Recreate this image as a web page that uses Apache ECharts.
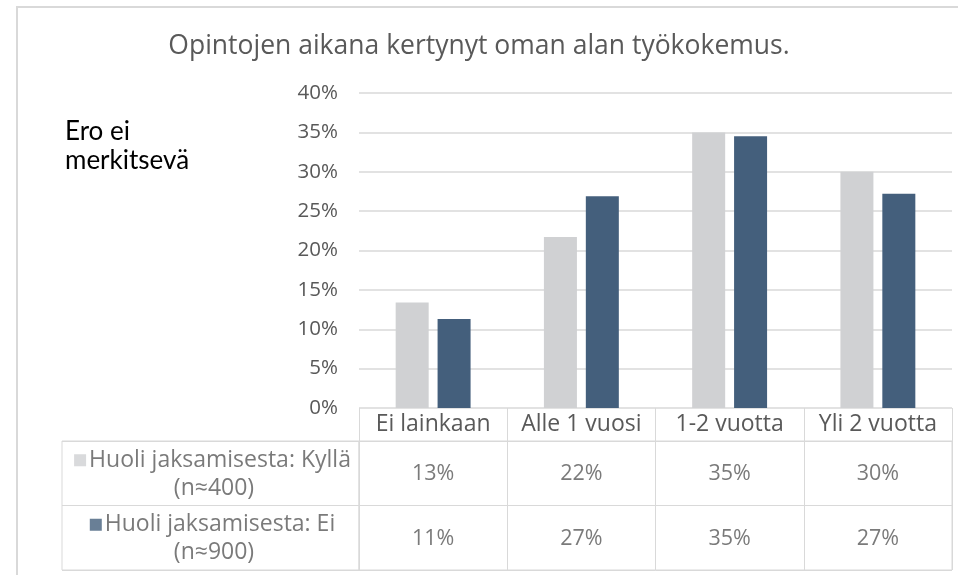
<!DOCTYPE html>
<html lang="fi">

<head>
    <meta charset="UTF-8">
    <title>Opintojen aikana kertynyt oman alan työkokemus</title>
    <script src="https://cdn.jsdelivr.net/npm/echarts@6/dist/echarts.min.js"></script>
    <style>
        html, body { margin: 0; padding: 0; background: #fff; }
        #chart { width: 958px; height: 575px; }
    </style>
</head>

<body>
    <div id="chart"></div>
    <script>
        // data
        var categories = ['Ei lainkaan', 'Alle 1 vuosi', '1-2 vuotta', 'Yli 2 vuotta'];
        var seriesNames = ['Huoli jaksamisesta: Kyllä', 'Huoli jaksamisesta: Ei'];
        var seriesN = ['(n≈400)', '(n≈900)'];
        var kylla = [13.4, 21.7, 35.0, 30.0];
        var ei = [11.3, 26.9, 34.5, 27.2];
        var colors = ['#d0d1d3', '#445f7c'];

        var font = '"Open Sans", "Noto Sans", sans-serif';
        var gridColor = '#d9d9d9';
        var textColor = '#595959';

        // cells of the data table (column, row, value)
        var cells = [];
        [kylla, ei].forEach(function(vals, r) {
            vals.forEach(function(v, c) { cells.push([c, r, v]); });
        });

        var chart = echarts.init(document.getElementById('chart'));
        var option = {
            animation: false,
            textStyle: { fontFamily: font },
            title: [{
                text: 'Opintojen aikana kertynyt oman alan työkokemus.',
                left: 'center',
                top: 28,
                textStyle: { fontSize: 26.5, fontWeight: 'normal', color: textColor, fontFamily: font }
            }, {
                text: 'Ero ei\nmerkitsevä',
                left: 60,
                top: 112,
                textStyle: { fontSize: 26, fontWeight: 'normal', color: '#000', lineHeight: 29, fontFamily: 'Lato, sans-serif' }
            }],
            graphic: [{
                type: 'rect',
                shape: { x: 17, y: 7, width: 1200, height: 1000 },
                style: { fill: 'none', stroke: '#d9d9d9', lineWidth: 2 },
                silent: true
            }],
            grid: [
                { left: 359, right: 6, top: 93, bottom: 167 },
                { left: 62, width: 297, top: 441, height: 129, show: true, borderColor: gridColor, borderWidth: 1 },
                { left: 359, right: 6, top: 441, height: 129, show: true, borderColor: gridColor, borderWidth: 1 }
            ],
            xAxis: [{
                type: 'category',
                gridIndex: 0,
                data: categories,
                axisLine: { show: false },
                axisTick: { show: true, length: 33, interval: 0, lineStyle: { color: gridColor } },
                axisLabel: { fontSize: 23, color: textColor, margin: 16, verticalAlign: 'middle', interval: 0 }
            }, {
                type: 'category',
                gridIndex: 1,
                data: [''],
                axisLine: { show: false },
                axisTick: { show: false },
                axisLabel: { show: false }
            }, {
                type: 'category',
                gridIndex: 2,
                data: categories,
                axisLine: { show: false },
                axisTick: { show: false },
                axisLabel: { show: false },
                splitLine: { show: true, interval: 0, lineStyle: { color: gridColor } }
            }],
            yAxis: [{
                type: 'value',
                gridIndex: 0,
                min: 0,
                max: 40,
                interval: 5,
                axisLine: { show: false },
                axisTick: { show: false },
                axisLabel: { fontSize: 20.5, color: textColor, margin: 21, formatter: '{value}%' },
                splitLine: { lineStyle: { color: gridColor, width: 1.5 } }
            }, {
                type: 'category',
                gridIndex: 1,
                inverse: true,
                data: seriesNames,
                axisLine: { show: false },
                axisTick: { show: false },
                axisLabel: { show: false },
                splitLine: { show: true, interval: 0, lineStyle: { color: gridColor } }
            }, {
                type: 'category',
                gridIndex: 2,
                inverse: true,
                data: seriesNames,
                axisLine: { show: false },
                axisTick: { show: false },
                axisLabel: { show: false },
                splitLine: { show: true, interval: 0, lineStyle: { color: gridColor } }
            }],
            series: [{
                name: seriesNames[0],
                type: 'bar',
                data: kylla,
                barWidth: 33,
                barGap: '27%',
                itemStyle: { color: colors[0] }
            }, {
                name: seriesNames[1],
                type: 'bar',
                data: ei,
                barWidth: 33,
                itemStyle: { color: colors[1] }
            }, {
                // row headers of the data table
                type: 'scatter',
                xAxisIndex: 1,
                yAxisIndex: 1,
                symbolSize: 1,
                itemStyle: { color: 'rgba(0,0,0,0)' },
                data: seriesNames.map(function(n, r) { return [0, r]; }),
                label: {
                    show: true,
                    position: 'inside',
                    offset: [2, 1],
                    align: 'center',
                    formatter: function(p) {
                        var r = p.data[1];
                        return '{sq' + r + '|}{t|' + seriesNames[r] + '}\n{t|' + seriesN[r] + '}';
                    },
                    rich: {
                        sq0: { width: 12, height: 12, backgroundColor: colors[0] },
                        sq1: { width: 12, height: 12, backgroundColor: colors[1] },
                        t: { fontSize: 23, color: textColor, lineHeight: 28, padding: [0, 0, 0, 3] }
                    }
                }
            }, {
                // values of the data table
                type: 'scatter',
                xAxisIndex: 2,
                yAxisIndex: 2,
                symbolSize: 1,
                itemStyle: { color: 'rgba(0,0,0,0)' },
                data: cells,
                label: {
                    show: true,
                    position: 'inside',
                    offset: [0, 1],
                    fontSize: 21.5,
                    color: textColor,
                    formatter: function(p) { return Math.round(p.data[2]) + '%'; }
                }
            }]
        };
        chart.setOption(option);
    </script>
</body>

</html>
